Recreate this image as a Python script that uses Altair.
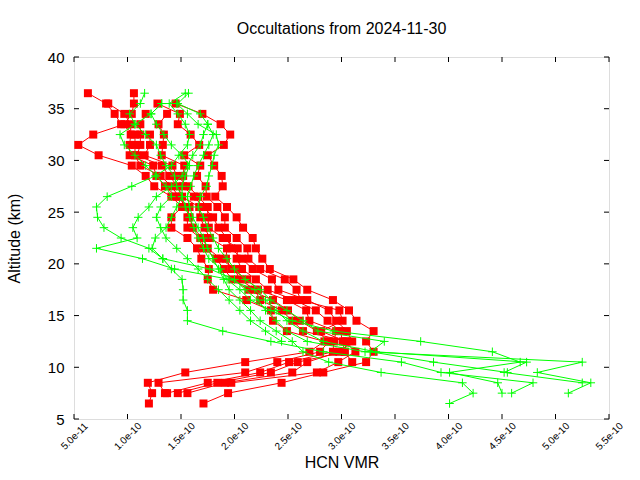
import altair as alt
import pandas as pd

# Altitude grid (km)
ALT = [6.5, 7.5, 8.5, 9.5, 10.5, 11.5, 12.5, 13.5, 14.5, 15.5, 16.5, 17.5, 18.5,
       19.5, 20.5, 21.5, 22.5, 23.5, 24.5, 25.5, 26.5, 27.5, 28.5, 29.5, 30.5,
       31.5, 32.5, 33.5, 34.5, 35.5, 36.5]

# Red profiles: (first altitude, HCN VMR in units of 1e-10)
R1 = (6.5, [1.20, 1.23, 1.19, 1.54, 2.10, 2.70, 2.84, 2.49, 2.36, 2.34, 2.11, 1.80, 1.75, 1.76,
            1.69, 1.65, 1.56, 1.41, 1.41, 1.51, 1.41, 1.25, 1.17, 1.04, 0.73, 0.54, 0.68, 0.97,
            1.04, 1.06, 1.06])
R2 = (7.5, [1.35, 1.29, 2.10, 2.40, 2.80, 2.88, 2.77, 2.61, 2.50, 2.36, 2.13, 1.98, 1.90, 1.83,
            1.72, 1.68, 1.56, 1.56, 1.58, 1.46, 1.35, 1.27, 1.24, 1.02, 1.02, 1.03, 1.03, 0.97,
            0.82])
R3 = (7.5, [1.37, 1.75, 2.24, 2.51, 2.92, 2.93, 2.95, 2.70, 2.67, 2.49, 2.22, 2.12, 1.97, 1.92,
            1.93, 1.77, 1.72, 1.68, 1.67, 1.51, 1.47, 1.39, 1.32, 1.09, 1.12, 1.12, 1.12, 1.17])
R4 = (7.5, [1.47, 1.84, 2.34, 2.59, 3.03, 3.01, 2.99, 2.87, 2.76, 2.56, 2.31, 2.20, 2.07, 2.02,
            2.03, 1.89, 1.76, 1.75, 1.75, 1.66, 1.57, 1.46, 1.42, 1.16, 1.21, 1.21])
R5 = (7.5, [1.56, 1.91, 2.54, 2.68, 2.98, 3.10, 3.05, 2.95, 2.88, 2.68, 2.41, 2.35, 2.17, 2.07,
            1.97, 1.93, 1.85, 1.80, 1.71, 1.62, 1.52, 1.52, 1.53, 1.32, 1.33, 1.34, 1.29, 1.37])
R6 = (8.5, [1.97, 2.77, 2.97, 3.13, 3.03, 2.81, 3.01, 2.98, 2.62, 2.58, 2.47, 2.24, 2.13, 2.12,
            2.02, 1.91, 1.91, 1.84, 1.74, 1.73, 1.65, 1.68, 1.53, 1.67, 1.59, 1.47, 1.49, 1.28])
R7 = (6.5, [1.71, 1.94, 2.44, 2.83, 3.23, 3.30, 3.23, 3.30, 3.14, 3.07, 2.92, 2.68, 2.55, 2.33,
            2.26, 2.20, 2.17, 2.08, 2.02, 1.93, 1.82, 1.89, 1.88, 1.81, 1.75, 1.90, 1.96, 1.87,
            1.70, 1.45])
R8 = (10.5, [3.10, 3.03, 3.05, 2.64, 2.54, 2.44, 2.24, 2.19, 2.05, 2.00, 1.87, 1.75, 1.70, 1.61,
             1.58, 1.54, 1.48, 1.41, 1.31, 1.12, 1.07, 1.07, 1.07, 0.94, 0.88, 0.80, 0.63])

# Green profiles
G1 = (7.5, [5.12, 5.33, 4.83, 5.25, 3.22, 2.68, 2.49, 2.39, 2.29, 2.22, 2.10, 2.00, 1.77, 1.33,
            1.20, 0.94, 0.78, 0.72, 0.71, 0.81, 1.04, 1.26, 1.41, 1.48, 1.56, 1.58, 1.54, 1.47,
            1.39, 1.54])
G2 = (8.5, [5.25, 4.52, 4.73, 3.32, 2.83, 2.64, 2.49, 2.39, 2.29, 2.19, 1.95, 1.44, 1.14, 0.71,
            1.09, 1.05, 1.10, 1.20, 1.27, 1.41, 1.51, 1.56, 1.61, 1.68, 1.71, 1.75, 1.68, 1.47,
            1.57])
G3 = (7.5, [4.59, 4.79, 3.93, 3.56, 2.83, 2.34, 1.89, 1.56, 1.56, 1.52, 1.52, 1.51, 1.41, 1.33,
            1.23, 1.26, 1.36, 1.41, 1.46, 1.51, 1.46, 1.44, 1.36, 1.31, 1.27, 1.17, 1.07, 1.02,
            1.12, 1.16])
G4 = (6.5, [4.01, 4.23, 4.13, 3.37, 2.88, 2.64, 2.54, 2.39, 2.24, 2.15, 2.05, 1.95, 1.90, 1.85,
            1.80, 1.75, 1.71, 1.66, 1.61, 1.58, 1.56, 1.59, 1.62, 1.66, 1.71, 1.76, 1.80, 1.75])
G5 = (7.5, [4.50, 4.46, 4.01, 4.67, 4.41, 3.74, 2.93, 2.54, 2.34, 2.15, 2.05, 1.93, 1.87, 1.76,
            1.71, 1.66, 1.62, 1.58, 1.54, 1.51, 1.51, 1.54, 1.58, 1.51, 1.41, 1.34, 1.27, 1.22,
            1.32])
G6 = (9.5, [4.55, 3.86, 3.27, 3.40, 2.78, 2.64, 2.49, 2.34, 2.24, 2.10, 2.00, 1.93, 1.85, 1.80,
            1.75, 1.71, 1.66, 1.68, 1.74, 1.76, 1.79, 1.81, 1.85, 1.83, 1.66, 1.56, 1.46])
G7 = (12.5, [2.44, 2.29, 2.15, 2.05, 1.95, 1.85, 1.75, 1.66, 1.56, 1.46, 1.36, 1.31, 1.27, 1.31,
             1.41, 1.36, 1.27, 1.17, 1.07, 0.97, 0.93, 1.07, 1.22, 1.32])

RED = {"R1": R1, "R2": R2, "R3": R3, "R4": R4, "R5": R5, "R6": R6, "R7": R7, "R8": R8}
GREEN = {"G1": G1, "G2": G2, "G3": G3, "G4": G4, "G5": G5, "G6": G6, "G7": G7}

X_TICKS = [5e-11, 1e-10, 1.5e-10, 2e-10, 2.5e-10, 3e-10, 3.5e-10, 4e-10, 4.5e-10, 5e-10, 5.5e-10]
Y_TICKS = [5, 10, 15, 20, 25, 30, 35, 40]

rows = []
for group, profs in (("red", RED), ("green", GREEN)):
    for name, (start, vals) in profs.items():
        i0 = ALT.index(start)
        for k, v in enumerate(vals):
            rows.append({"group": group, "profile": name, "alt": ALT[i0 + k], "vmr": v * 1e-10})
df = pd.DataFrame(rows)

W, H = 535, 362
FONT = "Liberation Sans"

xenc = alt.X("vmr:Q", scale=alt.Scale(domain=[5e-11, 5.5e-10], nice=False, zero=False),
             axis=alt.Axis(values=X_TICKS, format=".1e", labelAngle=-45, labelAlign="center",
                           labelBaseline="middle", labelPadding=17, ticks=False, domain=False,
                           grid=False, labelFontSize=10, titleFontSize=16, titlePadding=3,
                           labelFont=FONT, titleFont=FONT, labelColor="black",
                           titleColor="black", titleFontWeight="normal"),
             title="HCN VMR")
yenc = alt.Y("alt:Q", scale=alt.Scale(domain=[5, 40], nice=False, zero=False),
             axis=alt.Axis(values=Y_TICKS, ticks=False, domain=False, grid=False,
                           labelPadding=10, labelFontSize=15, titleFontSize=16,
                           titlePadding=25, labelFont=FONT, titleFont=FONT,
                           labelColor="black", titleColor="black", titleFontWeight="normal"),
             title="Altitude (km)")

base = alt.Chart(df)
red = base.transform_filter(alt.datum.group == "red")
green = base.transform_filter(alt.datum.group == "green")

red_line = red.mark_line(color="#ff0000", strokeWidth=1).encode(
    x=xenc, y=yenc, detail="profile:N", order="alt:Q")
red_pts = red.mark_point(shape="square", filled=True, size=64, color="#ff0000", opacity=1).encode(
    x=xenc, y=yenc)
green_line = green.mark_line(color="#00ff00", strokeWidth=1).encode(
    x=xenc, y=yenc, detail="profile:N", order="alt:Q")
green_pts = green.mark_point(shape="M-1,0L1,0M0,-1L0,1", filled=False, size=72,
                             color="#00ff00", strokeWidth=1, opacity=1).encode(x=xenc, y=yenc)

xt = pd.DataFrame({"vmr": X_TICKS})
yt = pd.DataFrame({"alt": Y_TICKS})
tick_b = alt.Chart(xt).mark_rule(color="black", strokeWidth=1).encode(
    x=xenc, y=alt.value(H), y2=alt.value(H - 5))
tick_t = alt.Chart(xt).mark_rule(color="black", strokeWidth=1).encode(
    x=xenc, y=alt.value(0), y2=alt.value(5))
tick_l = alt.Chart(yt).mark_rule(color="black", strokeWidth=1).encode(
    y=yenc, x=alt.value(0), x2=alt.value(5))
tick_r = alt.Chart(yt).mark_rule(color="black", strokeWidth=1).encode(
    y=yenc, x=alt.value(W), x2=alt.value(W - 5))

chart = alt.layer(red_line, red_pts, green_line, green_pts, tick_b, tick_t, tick_l, tick_r).properties(
    width=W, height=H,
    title=alt.TitleParams("Occultations from 2024-11-30", fontSize=16, fontWeight="normal",
                          font=FONT, color="black", anchor="middle", offset=13),
    autosize=alt.AutoSizeParams(type="none"),
    padding={"left": 74, "top": 57, "right": 31, "bottom": 61},
).configure_view(stroke="black", strokeWidth=1).configure(background="white")

chart.save("out.html", embed_options={"renderer": "svg", "actions": False})
